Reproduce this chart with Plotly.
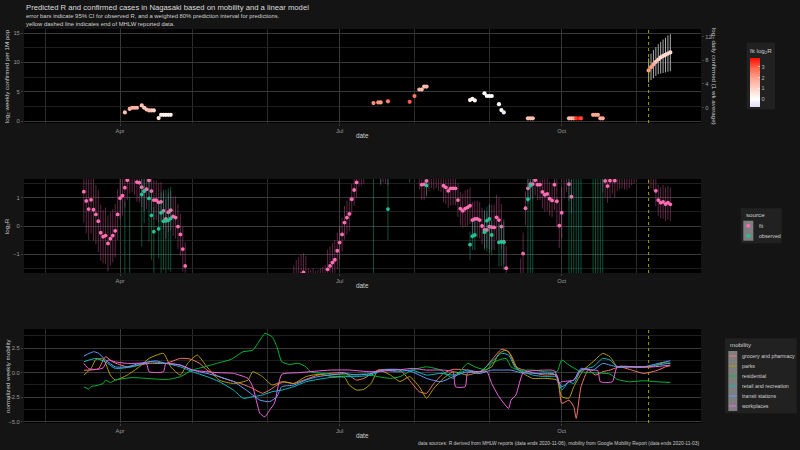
import pandas as pd
import plotly.graph_objects as go

W, H = 800, 450
FONT = "Liberation Sans, Arial, Helvetica, sans-serif"

# ---------------- data ----------------
x_range = ["2020-02-21 05:00", "2020-11-27 17:00"]
data_end = "2020-11-06"

# panel 1: log2 weekly confirmed per 1M pop, coloured by fitted log2 R
case_dates = ["2020-04-03", "2020-04-05", "2020-04-06", "2020-04-07", "2020-04-08", "2020-04-10", "2020-04-11",
              "2020-04-12", "2020-04-13", "2020-04-14", "2020-04-15", "2020-04-17", "2020-04-18", "2020-04-19",
              "2020-04-20", "2020-04-21", "2020-04-22",
              "2020-07-15", "2020-07-17", "2020-07-18", "2020-07-21", "2020-07-30", "2020-08-01", "2020-08-03",
              "2020-08-04", "2020-08-05", "2020-08-06",
              "2020-08-24", "2020-08-25", "2020-08-26", "2020-08-30", "2020-08-31", "2020-09-01", "2020-09-02",
              "2020-09-05", "2020-09-06", "2020-09-07",
              "2020-09-17", "2020-09-18", "2020-09-19", "2020-10-04", "2020-10-05", "2020-10-06", "2020-10-07",
              "2020-10-08", "2020-10-09",
              "2020-10-14", "2020-10-15", "2020-10-16", "2020-10-17", "2020-10-18"]
case_log2 = [1.5, 2.1, 2.3, 2.3, 2.3, 2.7, 2.3, 2.0, 1.85, 1.85, 1.85, 0.55, 1.1, 1.1, 1.1, 1.1, 1.1,
             3.1, 3.2, 3.2, 3.4, 3.3, 4.3, 5.4, 5.4, 5.9, 5.9,
             3.6, 3.8, 3.55, 4.75, 4.3, 4.3, 4.3, 2.9, 1.9, 1.5,
             0.5, 0.5, 0.5, 0.5, 0.5, 0.5, 0.5, 0.5, 0.5,
             1.1, 1.1, 1.1, 0.5, 0.5]
case_fit_log2r = [1.3, 1.6, 1.7, 1.6, 1.5, 1.3, 1.2, 1.3, 1.5, 1.2, 0.9, 0.5, 0.5, 0.4, 0.2, 0.35, 0.4,
                  2.3, 2.1, 2.1, 2.5, 3.0, 2.6, 1.6, 1.4, 1.4, 1.5,
                  0.3, 0.15, 0.2, 0.0, 0.0, 0.0, 0.0, 0.1, 0.0, -0.5,
                  1.3, 1.4, 1.4, 1.5, 1.3, 1.8, 3.3, 3.6, 3.2,
                  1.9, 1.9, 1.9, 1.7, 1.8]

pred_dates = ["2020-11-06", "2020-11-07", "2020-11-08", "2020-11-09", "2020-11-10",
              "2020-11-11", "2020-11-12", "2020-11-13", "2020-11-14", "2020-11-15"]
pred_log2 = [8.64, 9.2, 9.66, 10.1, 10.5, 10.85, 11.1, 11.3, 11.5, 11.7]
pred_lo = [6.6, 7.0, 7.3, 7.7, 8.0, 8.1, 8.2, 8.3, 8.4, 8.5]
pred_hi = [10.7, 11.5, 12.1, 12.6, 13.1, 13.5, 13.9, 14.2, 14.6, 14.8]
pred_fit_log2r = [2.1, 1.95, 1.8, 1.25, 0.92, 0.83, 0.86, 0.78, 0.83, 0.77]

# panel 2: fitted log2 R (daily segments) with half-width of prediction interval
fit_seg_starts = ["2020-03-17", "2020-06-12", "2020-07-18", "2020-08-03", "2020-09-14", "2020-10-18", "2020-11-06"]
fit_seg_values = [
    [1.22, 0.89, 0.60, 0.93, 0.58, 0.41, 0.17, -0.24, -0.38, -0.34, -0.62, -0.45, -0.34, -0.17, 0.41,
     0.99, 1.08, 1.36, 1.63, 1.85, 1.90, 1.80, 1.56, 1.54, 1.38, 1.24, 1.31, 1.62, 1.24, 0.92, 0.92, 0.84,
     0.86, 0.54, 0.25, 0.49, 0.56, 0.34, 0.30, -0.02, -0.30, -0.82, -1.42],
    [-2.1, -1.9, -1.8, -1.72, -1.65, -1.75, -2.2, -2.25, -2.2, -2.3, -2.25, -2.2, -2.15, -2.1, -1.54, -1.42,
     -1.3, -1.2, -0.88, -0.59, -0.30, 0.12, 0.30, 0.43, 0.95, 1.28, 1.55, 1.95, 2.0, 2.05],
    [2.05, 2.1, 2.05, 2.0],
    [1.85, 1.47, 1.48, 1.60, 1.80, 1.90, 1.85, 1.9, 1.8, 1.75,
     1.43, 1.37, 1.25, 1.34, 1.34, 1.34, 0.92, 0.62, 0.54, 0.62, 0.66, 0.72, 0.21, 0.25, 0.25, 0.21, 0.0,
     -0.14, -0.14, -0.02, -0.04, -0.05, 0.31, 0.21, -0.02, -0.56, -1.5],
    [-1.9, -0.98, 0.63, 1.34, 1.49, 1.49, 1.63, 1.47, 1.47, 1.21, 1.11, 1.14, 0.97, 0.91, 1.47, 0.88, 0.01,
     0.47, 1.8, 1.9, 1.49, 1.04],
    [1.8, 1.6, 1.42, 1.61, 1.75, 1.61, 1.85, 1.9, 1.95, 1.9, 1.85, 1.9, 1.95, 2.0],
    [2.1, 1.95, 1.8, 1.25, 0.92, 0.83, 0.86, 0.78, 0.83, 0.77],
]
fit_seg_halfwidth = [
    [1.1, 1.15, 1.1, 1.2, 1.1, 1.05, 1.1, 1.0, 0.95, 1.0, 1.0, 0.95, 0.95, 0.95, 0.9,
     0.75, 0.7, 0.7, 0.7, 0.7, 0.7, 0.7, 0.7, 0.7, 0.7, 0.7, 0.7, 0.7, 0.7, 0.7, 0.7, 0.7,
     0.7, 0.65, 0.7, 0.7, 0.7, 0.7, 0.75, 0.8, 0.75, 0.8, 0.85],
    [0.7, 0.7, 0.7, 0.7, 0.68, 0.7, 0.7, 0.7, 0.7, 0.7, 0.7, 0.7, 0.7, 0.7, 0.7, 0.7,
     0.7, 0.7, 0.65, 0.6, 0.6, 0.6, 0.6, 0.6, 0.55, 0.55, 0.55, 0.55, 0.55, 0.55],
    [0.55, 0.55, 0.55, 0.55],
    [0.55, 0.55, 0.55, 0.55, 0.55, 0.55, 0.55, 0.55, 0.55, 0.55,
     0.6, 0.6, 0.6, 0.6, 0.6, 0.6, 0.6, 0.6, 0.6, 0.65, 0.65, 0.65, 0.65, 0.65, 0.65, 0.65, 0.65,
     0.65, 0.65, 0.8, 0.8, 0.8, 0.8, 0.8, 0.8, 0.8, 0.8],
    [0.75, 0.75, 0.6, 0.55, 0.55, 0.55, 0.55, 0.55, 0.55, 0.6, 0.6, 0.6, 0.6, 0.6, 0.9, 0.9, 0.8,
     0.9, 0.8, 0.7, 0.6, 0.6],
    [0.6, 0.6, 0.6, 0.6, 0.6, 0.6, 0.6, 0.6, 0.6, 0.6, 0.55, 0.55, 0.5, 0.5],
    [0.6, 0.6, 0.55, 0.55, 0.55, 0.55, 0.6, 0.6, 0.6, 0.6],
]

# panel 2: observed log2 R with 95% CI  (date, value, lower, upper)
obs_points = [
    ("2020-04-03", -2.2, -4.5, 0.86), ("2020-04-05", -2.0, -4.5, 1.05),
    ("2020-04-10", 1.12, -0.73, 2.3), ("2020-04-11", 1.24, 0.1, 2.2), ("2020-04-13", 0.98, -0.56, 2.0),
    ("2020-04-14", 0.38, -1.2, 1.28), ("2020-04-15", -0.2, -2.5, 0.69), ("2020-04-17", -0.1, -1.15, 0.86),
    ("2020-04-18", 0.47, -2.5, 1.22), ("2020-04-19", 0.17, -1.56, 1.28), ("2020-04-20", 0.18, -2.5, 1.28),
    ("2020-04-21", 0.2, -1.56, 1.34), ("2020-04-22", 0.27, -1.62, 1.40),
    ("2020-07-15", 3.0, -4.0, 8.0), ("2020-07-18", 2.2, 1.45, 3.0), ("2020-07-21", 0.6, -0.5, 1.9),
    ("2020-07-30", 2.2, 1.55, 3.0), ("2020-08-06", 1.44, 1.1, 1.8),
    ("2020-08-24", -0.66, -1.2, -0.2), ("2020-08-25", -0.36, -0.85, 0.21), ("2020-08-26", -0.32, -0.85, 0.21),
    ("2020-08-30", -0.22, -0.85, 0.57), ("2020-08-31", 0.19, -0.91, 0.69), ("2020-09-01", 0.25, -0.97, 0.75),
    ("2020-09-02", -0.32, -1.03, 0.21), ("2020-09-05", -0.58, -1.44, 0.09), ("2020-09-06", -0.56, -1.44, 0.09),
    ("2020-09-07", -0.58, -1.56, 0.15),
    ("2020-09-17", 0.95, -4.0, 2.5), ("2020-09-18", 1.43, -4.0, 2.5), ("2020-09-19", 3.0, -4.0, 8.0),
    ("2020-10-04", 3.0, -4.0, 8.0), ("2020-10-05", 3.0, -4.0, 8.0), ("2020-10-06", 3.0, -4.0, 8.0),
    ("2020-10-07", 3.0, -4.0, 8.0), ("2020-10-08", 3.0, -4.0, 8.0), ("2020-10-09", 3.0, -4.0, 8.0),
    ("2020-10-14", 3.0, -4.0, 8.0), ("2020-10-15", 3.0, -4.0, 8.0), ("2020-10-16", 3.0, -4.0, 8.0),
    ("2020-10-17", 3.0, -4.0, 8.0), ("2020-10-18", 3.0, -4.0, 8.0),
]

# panel 3: normalized weekly mobility (date, value)
mob_grocery = [("2020-03-17", 0.25), ("2020-03-23", 0.4), ("2020-03-26", 1.63), ("2020-03-29", 1.1),
               ("2020-04-04", 0.6), ("2020-04-13", 0.95), ("2020-04-20", 0.95), ("2020-04-26", 1.46),
               ("2020-04-30", 1.4), ("2020-05-04", 0.95), ("2020-05-07", 0.27), ("2020-05-12", -0.4),
               ("2020-05-18", -0.9), ("2020-05-21", -1.1), ("2020-05-26", -1.6), ("2020-05-30", -2.1),
               ("2020-06-02", -1.77), ("2020-06-05", -1.26), ("2020-06-08", -0.92), ("2020-06-12", -1.1),
               ("2020-06-17", -0.68), ("2020-06-22", -0.24), ("2020-06-27", -0.07), ("2020-07-03", 0.0),
               ("2020-07-08", -0.75), ("2020-07-11", -0.58), ("2020-07-17", 0.27), ("2020-07-26", 0.27),
               ("2020-07-31", -1.1), ("2020-08-03", -1.94), ("2020-08-06", -2.1), ("2020-08-09", -1.1),
               ("2020-08-13", -0.07), ("2020-08-17", 0.34), ("2020-08-23", 0.27), ("2020-08-28", -0.07),
               ("2020-09-02", 1.3), ("2020-09-06", 2.38), ("2020-09-09", 2.14), ("2020-09-12", 0.6),
               ("2020-09-19", 0.0), ("2020-09-24", -0.24), ("2020-09-29", -0.24), ("2020-10-01", -3.13),
               ("2020-10-04", -2.8), ("2020-10-06", -3.47), ("2020-10-07", -4.66), ("2020-10-09", -1.43),
               ("2020-10-12", 0.27), ("2020-10-15", -0.24), ("2020-10-18", 0.1), ("2020-10-21", 0.27),
               ("2020-10-25", 0.6), ("2020-10-30", 0.27), ("2020-11-04", -0.07), ("2020-11-10", 0.27),
               ("2020-11-13", 0.6), ("2020-11-15", 0.71)]
mob_parks = [("2020-03-17", -0.24), ("2020-03-20", 0.44), ("2020-03-22", 1.36), ("2020-03-25", 1.4),
             ("2020-03-28", -0.24), ("2020-03-30", -0.75), ("2020-04-04", -0.24), ("2020-04-09", 0.6),
             ("2020-04-13", 1.46), ("2020-04-19", 1.97), ("2020-04-22", 0.6), ("2020-04-26", -0.24),
             ("2020-04-29", 0.95), ("2020-05-03", 1.8), ("2020-05-07", 0.6), ("2020-05-12", -0.75),
             ("2020-05-18", -1.1), ("2020-05-24", -0.75), ("2020-05-26", 0.1), ("2020-05-30", -0.4),
             ("2020-06-03", -1.26), ("2020-06-07", -0.92), ("2020-06-12", -1.1), ("2020-06-17", -0.4),
             ("2020-06-22", -0.17), ("2020-06-27", -0.34), ("2020-07-03", -0.48), ("2020-07-05", -1.26),
             ("2020-07-08", -1.77), ("2020-07-11", -1.7), ("2020-07-14", -1.1), ("2020-07-17", 0.27),
             ("2020-07-22", -0.24), ("2020-07-26", -0.9), ("2020-07-30", -0.4), ("2020-08-03", -1.43),
             ("2020-08-06", -2.6), ("2020-08-09", -1.6), ("2020-08-13", -0.58), ("2020-08-17", 0.1),
             ("2020-08-23", -0.24), ("2020-08-28", 0.1), ("2020-09-02", 0.6), ("2020-09-05", 1.97),
             ("2020-09-08", 2.3), ("2020-09-10", 1.8), ("2020-09-13", 0.27), ("2020-09-19", -0.58),
             ("2020-09-24", -0.58), ("2020-09-29", -0.75), ("2020-10-01", -2.45), ("2020-10-04", -2.6),
             ("2020-10-06", -1.43), ("2020-10-10", 0.27), ("2020-10-14", 1.12), ("2020-10-18", 1.97),
             ("2020-10-21", 1.63), ("2020-10-24", 0.6), ("2020-10-27", 0.6), ("2020-11-01", 0.55),
             ("2020-11-07", 0.6), ("2020-11-12", 1.0), ("2020-11-15", 0.95)]
mob_residential = [("2020-03-17", -1.43), ("2020-03-19", -1.67), ("2020-03-20", -1.4), ("2020-03-22", -1.33),
                   ("2020-03-25", -1.1), ("2020-03-26", -0.75), ("2020-03-28", -1.0), ("2020-03-30", -0.75),
                   ("2020-04-01", -0.65), ("2020-04-06", -0.5), ("2020-04-12", -0.58), ("2020-04-16", -0.65),
                   ("2020-04-21", -0.68), ("2020-04-26", -0.4), ("2020-05-01", 0.27), ("2020-05-06", 0.6),
                   ("2020-05-11", 0.95), ("2020-05-17", 1.36), ("2020-05-22", 2.14), ("2020-05-26", 2.3),
                   ("2020-05-29", 3.33), ("2020-05-31", 4.0), ("2020-06-03", 3.67), ("2020-06-05", 2.65),
                   ("2020-06-07", 1.12), ("2020-06-10", 0.85), ("2020-06-14", 0.95), ("2020-06-17", 0.61),
                   ("2020-06-19", 0.1), ("2020-06-27", -0.14), ("2020-07-05", -0.24), ("2020-07-11", -0.14),
                   ("2020-07-17", -0.4), ("2020-07-22", -0.58), ("2020-07-26", -0.4), ("2020-07-31", 0.27),
                   ("2020-08-06", 0.6), ("2020-08-12", 0.27), ("2020-08-17", -0.58), ("2020-08-23", 0.95),
                   ("2020-08-26", 0.6), ("2020-08-31", 0.27), ("2020-09-02", 0.95), ("2020-09-05", 1.3),
                   ("2020-09-08", 1.45), ("2020-09-10", 0.6), ("2020-09-13", 0.27), ("2020-09-19", 0.27),
                   ("2020-09-24", 0.1), ("2020-09-29", 0.1), ("2020-10-01", 1.3), ("2020-10-04", 0.78),
                   ("2020-10-09", 0.1), ("2020-10-14", 0.0), ("2020-10-21", -0.14), ("2020-10-24", -0.68),
                   ("2020-10-29", -0.92), ("2020-11-04", -0.82), ("2020-11-09", -0.92), ("2020-11-15", -0.99)]
mob_retail = [("2020-03-17", 1.12), ("2020-03-22", 1.46), ("2020-03-26", 1.1), ("2020-03-30", 0.44),
              ("2020-04-06", 0.6), ("2020-04-13", 1.1), ("2020-04-20", 0.95), ("2020-04-26", 0.6),
              ("2020-05-01", 0.1), ("2020-05-07", -0.4), ("2020-05-12", -0.9), ("2020-05-18", -1.77),
              ("2020-05-22", -2.6), ("2020-05-26", -2.45), ("2020-05-30", -2.28), ("2020-06-03", -1.94),
              ("2020-06-07", -1.77), ("2020-06-12", -1.43), ("2020-06-17", -0.92), ("2020-06-22", -0.68),
              ("2020-06-27", -0.5), ("2020-07-03", -0.4), ("2020-07-08", -0.4), ("2020-07-14", -0.24),
              ("2020-07-19", 0.27), ("2020-07-25", 0.1), ("2020-07-31", 0.27), ("2020-08-06", -0.24),
              ("2020-08-12", -0.07), ("2020-08-17", -0.24), ("2020-08-23", 0.27), ("2020-08-28", 0.1),
              ("2020-09-02", 1.12), ("2020-09-06", 1.97), ("2020-09-09", 1.8), ("2020-09-12", 0.44),
              ("2020-09-19", -0.24), ("2020-09-24", -0.4), ("2020-09-29", -0.4), ("2020-10-01", -1.77),
              ("2020-10-04", -0.92), ("2020-10-06", -1.1), ("2020-10-09", 0.27), ("2020-10-14", 0.6),
              ("2020-10-18", 1.46), ("2020-10-21", 1.3), ("2020-10-24", 0.6), ("2020-10-30", 0.6),
              ("2020-11-04", 0.6), ("2020-11-10", 0.78), ("2020-11-15", 1.0)]
mob_transit = [("2020-03-17", 1.7), ("2020-03-21", 2.14), ("2020-03-23", 2.0), ("2020-03-26", 1.3),
               ("2020-03-30", 0.6), ("2020-04-04", 0.6), ("2020-04-09", 0.95), ("2020-04-16", 1.2),
               ("2020-04-20", 0.95), ("2020-04-26", 0.8), ("2020-05-01", 0.27), ("2020-05-07", -0.07),
               ("2020-05-12", -0.4), ("2020-05-18", -0.9), ("2020-05-24", -1.9), ("2020-05-29", -2.8),
               ("2020-06-02", -2.95), ("2020-06-05", -2.45), ("2020-06-07", -1.43), ("2020-06-12", -1.26),
               ("2020-06-17", -0.75), ("2020-06-22", -0.4), ("2020-06-27", -0.24), ("2020-07-03", -0.07),
               ("2020-07-08", -0.24), ("2020-07-14", -0.07), ("2020-07-19", 0.27), ("2020-07-25", 0.34),
               ("2020-07-31", 0.1), ("2020-08-06", -0.58), ("2020-08-12", -0.92), ("2020-08-17", -0.4),
               ("2020-08-23", 0.1), ("2020-08-28", -0.07), ("2020-09-02", 0.27), ("2020-09-06", 0.27),
               ("2020-09-10", 0.27), ("2020-09-14", 0.0), ("2020-09-22", -0.07), ("2020-09-28", -0.14),
               ("2020-10-01", -1.43), ("2020-10-04", -0.92), ("2020-10-06", -0.75), ("2020-10-09", 0.44),
               ("2020-10-14", 0.27), ("2020-10-18", 0.95), ("2020-10-21", 0.78), ("2020-10-24", 0.6),
               ("2020-10-30", 0.6), ("2020-11-04", 0.6), ("2020-11-10", 0.95), ("2020-11-15", 1.22)]
mob_workplaces = [("2020-03-17", 0.95), ("2020-03-19", 0.4), ("2020-03-23", 0.35), ("2020-03-25", 0.5),
                  ("2020-03-27", 1.3), ("2020-03-30", 1.1), ("2020-04-04", 0.95), ("2020-04-12", 0.9),
                  ("2020-04-13", 0.1), ("2020-04-19", 0.1), ("2020-04-20", 0.95), ("2020-04-26", 0.75),
                  ("2020-05-01", 0.27), ("2020-05-07", 0.1), ("2020-05-12", 0.0), ("2020-05-18", -0.07),
                  ("2020-05-24", -0.58), ("2020-05-26", -1.43), ("2020-05-29", -4.15), ("2020-05-31", -4.5),
                  ("2020-06-02", -3.8), ("2020-06-04", -3.1), ("2020-06-07", -0.17), ("2020-06-14", 0.0),
                  ("2020-06-27", 0.27), ("2020-07-05", 0.27), ("2020-07-14", 0.1), ("2020-07-25", 0.27),
                  ("2020-07-31", 0.44), ("2020-08-06", 0.27), ("2020-08-13", 0.27), ("2020-08-17", 0.1),
                  ("2020-08-18", -1.43), ("2020-08-22", -1.43), ("2020-08-23", 0.0), ("2020-08-26", 0.1),
                  ("2020-08-31", 0.1), ("2020-09-02", -1.1), ("2020-09-05", -2.45), ("2020-09-09", -3.64),
                  ("2020-09-10", -2.79), ("2020-09-12", -2.28), ("2020-09-15", 0.0), ("2020-09-19", 0.2),
                  ("2020-09-24", 0.27), ("2020-09-28", 0.2), ("2020-09-30", -1.1), ("2020-10-01", -0.92),
                  ("2020-10-06", -0.75), ("2020-10-09", 0.27), ("2020-10-14", 0.27), ("2020-10-16", 0.2),
                  ("2020-10-17", -0.92), ("2020-10-22", -0.92), ("2020-10-24", 0.6), ("2020-11-01", 0.6),
                  ("2020-11-08", 0.6), ("2020-11-15", 0.78)]

mobility_names = ["grocery and pharmacy", "parks", "residential", "retail and recreation",
                  "transit stations", "workplaces"]
mobility_series = [mob_grocery, mob_parks, mob_residential, mob_retail, mob_transit, mob_workplaces]
mobility_colors = ["#F8766D", "#B79F00", "#00BA38", "#00BFC4", "#619CFF", "#F564E3"]

# ---------------- styling ----------------
BG = "#141414"
BOX = "#212121"
KEY = "#7f7f7f"
GRID_MAJ = "#383838"
GRID_MIN = "#1f1f1f"
TICK_C = "#9a9a9a"
TEXT_C = "#d0d0d0"
FIT_C = "#FF6EB4"
OBS_C = "#22C493"
DASH_C = "#a3a300"


def px(x):
    return x / W


def py(y):
    return 1 - y / H


x_dom = [px(24), px(701)]
p1 = [py(123), py(29)]
p2 = [py(273), py(179)]
p3 = [py(423), py(329)]

fig = go.Figure()

# ---- panel 1 ----
fig.add_trace(go.Scatter(x=case_dates, y=case_log2, mode="markers", xaxis="x", yaxis="y",
                         marker=dict(size=4.2, color=case_fit_log2r, coloraxis="coloraxis", line=dict(width=0)),
                         showlegend=False, name="confirmed"))
fig.add_trace(go.Scatter(x=pred_dates, y=pred_log2, mode="markers", xaxis="x", yaxis="y",
                         marker=dict(size=4.2, color=pred_fit_log2r, coloraxis="coloraxis", line=dict(width=0)),
                         error_y=dict(type="data", symmetric=False,
                                      array=[h - v for h, v in zip(pred_hi, pred_log2)],
                                      arrayminus=[v - l for v, l in zip(pred_log2, pred_lo)],
                                      color="#bdbdbd", thickness=0.9, width=0),
                         showlegend=False, name="predicted"))
fig.add_trace(go.Scatter(x=[], y=[], xaxis="x", yaxis="y2", showlegend=False, hoverinfo="skip"))

# ---- panel 2 ----
fit_dates, fit_vals, fit_hw = [], [], []
for s, vals, hws in zip(fit_seg_starts, fit_seg_values, fit_seg_halfwidth):
    fit_dates += [d.strftime("%Y-%m-%d") for d in pd.date_range(s, periods=len(vals))]
    fit_vals += vals
    fit_hw += hws

fig.add_trace(go.Scatter(x=fit_dates, y=fit_vals, mode="markers", xaxis="x2", yaxis="y3",
                         marker=dict(size=3.8, color=FIT_C, line=dict(width=0)),
                         error_y=dict(type="data", array=fit_hw, color="rgba(255,105,180,0.36)",
                                      thickness=1.0, width=0),
                         showlegend=False, name="fit"))
obs_dates = [o[0] for o in obs_points]
obs_vals = [o[1] for o in obs_points]
obs_lo = [o[2] for o in obs_points]
obs_hi = [o[3] for o in obs_points]
fig.add_trace(go.Scatter(x=obs_dates, y=obs_vals, mode="markers", xaxis="x2", yaxis="y3",
                         marker=dict(size=3.8, color=OBS_C, line=dict(width=0)),
                         error_y=dict(type="data", symmetric=False,
                                      array=[h - v for h, v in zip(obs_hi, obs_vals)],
                                      arrayminus=[v - l for v, l in zip(obs_vals, obs_lo)],
                                      color="rgba(31,192,143,0.42)", thickness=1.0, width=0),
                         showlegend=False, name="observed"))

# ---- panel 3 ----
for name, series, col in zip(mobility_names, mobility_series, mobility_colors):
    fig.add_trace(go.Scatter(x=[d for d, _ in series], y=[v for _, v in series], mode="lines",
                             xaxis="x3", yaxis="y4", name=name, showlegend=False,
                             line=dict(color=col, width=1.0, shape="spline", smoothing=0.5)))

# ---- axes ----
tickfont = dict(family=FONT, size=5.8, color=TICK_C)


def xaxis_cfg(anchor):
    return dict(domain=x_dom, anchor=anchor, type="date", range=x_range, dtick="M3", tick0="2020-01-01",
                tickformat="%b", showgrid=True, gridcolor=GRID_MAJ, gridwidth=1, zeroline=False,
                showline=False, ticks="outside", ticklen=2, tickwidth=0.6, tickcolor="#5a5a5a",
                tickfont=tickfont, automargin=False, fixedrange=True,
                minor=dict(dtick="M1", tick0="2020-01-01", showgrid=True, gridcolor="#2c2c2c", gridwidth=1,
                           ticks=""))


def yaxis_cfg(domain, anchor, rng, dtick, minor, fmt=None):
    d = dict(domain=domain, anchor=anchor, range=rng, dtick=dtick, tick0=0, showgrid=True,
             gridcolor=GRID_MAJ, gridwidth=1, zeroline=False, showline=False, ticks="outside", ticklen=2,
             tickwidth=0.6, tickcolor="#5a5a5a", tickfont=tickfont, automargin=False, fixedrange=True,
             minor=dict(dtick=minor, tick0=0, showgrid=True, gridcolor=GRID_MIN, gridwidth=1, ticks=""))
    if fmt:
        d["tickformat"] = fmt
    return d


fig.update_layout(
    xaxis=xaxis_cfg("y"),
    yaxis=yaxis_cfg(p1, "x", [-0.29, 15.68], 5, 2.5),
    yaxis2=dict(overlaying="y", side="right", anchor="x", range=[-2.63, 13.34], dtick=4, tick0=0,
                showgrid=False, zeroline=False, showline=False, ticks="outside", ticklen=2, tickwidth=0.6,
                tickcolor="#5a5a5a", tickfont=tickfont, automargin=False, fixedrange=True),
    xaxis2=xaxis_cfg("y3"),
    yaxis3=yaxis_cfg(p2, "x2", [-1.67, 1.67], 1, 0.5),
    xaxis3=xaxis_cfg("y4"),
    yaxis4=yaxis_cfg(p3, "x3", [-5.13, 4.46], 2.5, 1.25, ".1f"),
)

# colour scale for fitted log2 R
cmin, cmax = -0.73, 3.8
z0 = (0 - cmin) / (cmax - cmin)
fig.update_layout(coloraxis=dict(
    cmin=cmin, cmax=cmax,
    colorscale=[[0, "#E0DCF6"], [z0, "#FFFFFF"], [z0 + (1 - z0) * 0.25, "#FFD4C8"],
                [z0 + (1 - z0) * 0.5, "#FFA490"], [z0 + (1 - z0) * 0.75, "#FF6A50"], [1, "#FF0A00"]],
    colorbar=dict(x=px(750), xanchor="left", xpad=0, y=py(107), yanchor="bottom", ypad=0,
                  len=62, lenmode="pixels", thickness=10, thicknessmode="pixels", outlinewidth=0,
                  bgcolor="rgba(0,0,0,0)",
                  title=dict(text="fit log<sub>2</sub>R", side="top",
                             font=dict(family=FONT, size=6.2, color=TEXT_C)),
                  tickvals=[0, 1, 2, 3], ticks="inside", ticklen=2, tickcolor="white", tickwidth=0.6,
                  tickfont=dict(family=FONT, size=5.6, color="#bbbbbb")),
))

# ---- shapes: dashed end-of-data lines, legend boxes ----
shapes = []
for xr, yr in [("x", "y domain"), ("x2", "y3 domain"), ("x3", "y4 domain")]:
    shapes.append(dict(type="line", xref=xr, yref=yr, x0=data_end, x1=data_end, y0=0, y1=1,
                       line=dict(color=DASH_C, width=1, dash="3px,3px"), layer="above"))


def rect(x0, y0, x1, y1, color):
    return dict(type="rect", xref="paper", yref="paper", x0=px(x0), x1=px(x1), y0=py(y1), y1=py(y0),
                fillcolor=color, line=dict(width=0), layer="below")


shapes.append(rect(746.7, 42.7, 775, 109.3, BOX))
# source legend
shapes.append(rect(740.7, 208.3, 781.7, 243.3, BOX))
shapes.append(rect(743.3, 220.7, 753.3, 240.7, KEY))
for cy, col in [(225.7, FIT_C), (235.7, OBS_C)]:
    shapes.append(dict(type="circle", xref="paper", yref="paper", x0=px(746.3), x1=px(750.3),
                       y0=py(cy + 2), y1=py(cy - 2), fillcolor=col, line=dict(width=0)))
# mobility legend
shapes.append(rect(725, 338.3, 796.7, 413.3, BOX))
shapes.append(rect(728.3, 351, 737.3, 411, KEY))
for i, col in enumerate(mobility_colors):
    cy = 356 + 10 * i
    shapes.append(dict(type="line", xref="paper", yref="paper", x0=px(729), x1=px(736.6),
                       y0=py(cy), y1=py(cy), line=dict(color=col, width=1)))
fig.update_layout(shapes=shapes)

# ---- annotations (titles, axis titles, legend text) ----
ann = []


def text(x, y, s, size, color=TEXT_C, xanchor="left", angle=0):
    ann.append(dict(text=s, x=px(x), y=py(y), xref="paper", yref="paper", xanchor=xanchor,
                    yanchor="middle", showarrow=False, textangle=angle,
                    font=dict(family=FONT, size=size, color=color)))


text(24, 7.5, "Predicted R and confirmed cases in Nagasaki based on mobility and a linear model", 7.7,
     color="#dcdcdc")
text(24, 16.3, "error bars indicate 95% CI for observed R, and a weighted 80% prediction interval for predictions.",
     5.9)
text(24, 24, "yellow dashed line indicates end of MHLW reported data.", 5.9)

text(7, 76, "log<sub>2</sub> weekly confirmed per 1M pop", 6.2, xanchor="center", angle=-90)
text(714, 76, "log<sub>2</sub> daily confirmed (1 wk average)", 6.2, xanchor="center", angle=90)
text(7, 226, "log<sub>2</sub>R", 6.2, xanchor="center", angle=-90)
text(7, 376, "normalized weekly mobility", 6.2, xanchor="center", angle=-90)
for yy in [135, 285, 435]:
    text(362.5, yy, "date", 6.4, xanchor="center")

text(744, 214.5, "source", 6.2)
text(757, 225.7, "fit", 5.3)
text(757, 235.7, "observed", 5.3)
text(728.3, 344.3, "mobility", 6.2)
for i, name in enumerate(mobility_names):
    text(740, 356 + 10 * i, name, 5.3)

text(701, 443, "data sources: R derived from MHLW reports (data ends 2020-11-06), mobility from Google Mobility "
               "Report (data ends 2020-11-03)", 4.9, color="#c8c8c8", xanchor="right")

fig.update_layout(
    annotations=ann,
    width=W, height=H,
    margin=dict(l=0, r=0, t=0, b=0),
    paper_bgcolor=BG, plot_bgcolor="#000000",
    font=dict(family=FONT, color=TEXT_C),
    showlegend=False,
)

fig.write_html("out.html",
               config={"displayModeBar": False, "staticPlot": True},
               post_script="document.body.style.margin='0';document.body.style.padding='0';"
                           "document.body.style.overflow='hidden';"
                           "document.documentElement.style.overflow='hidden';")
